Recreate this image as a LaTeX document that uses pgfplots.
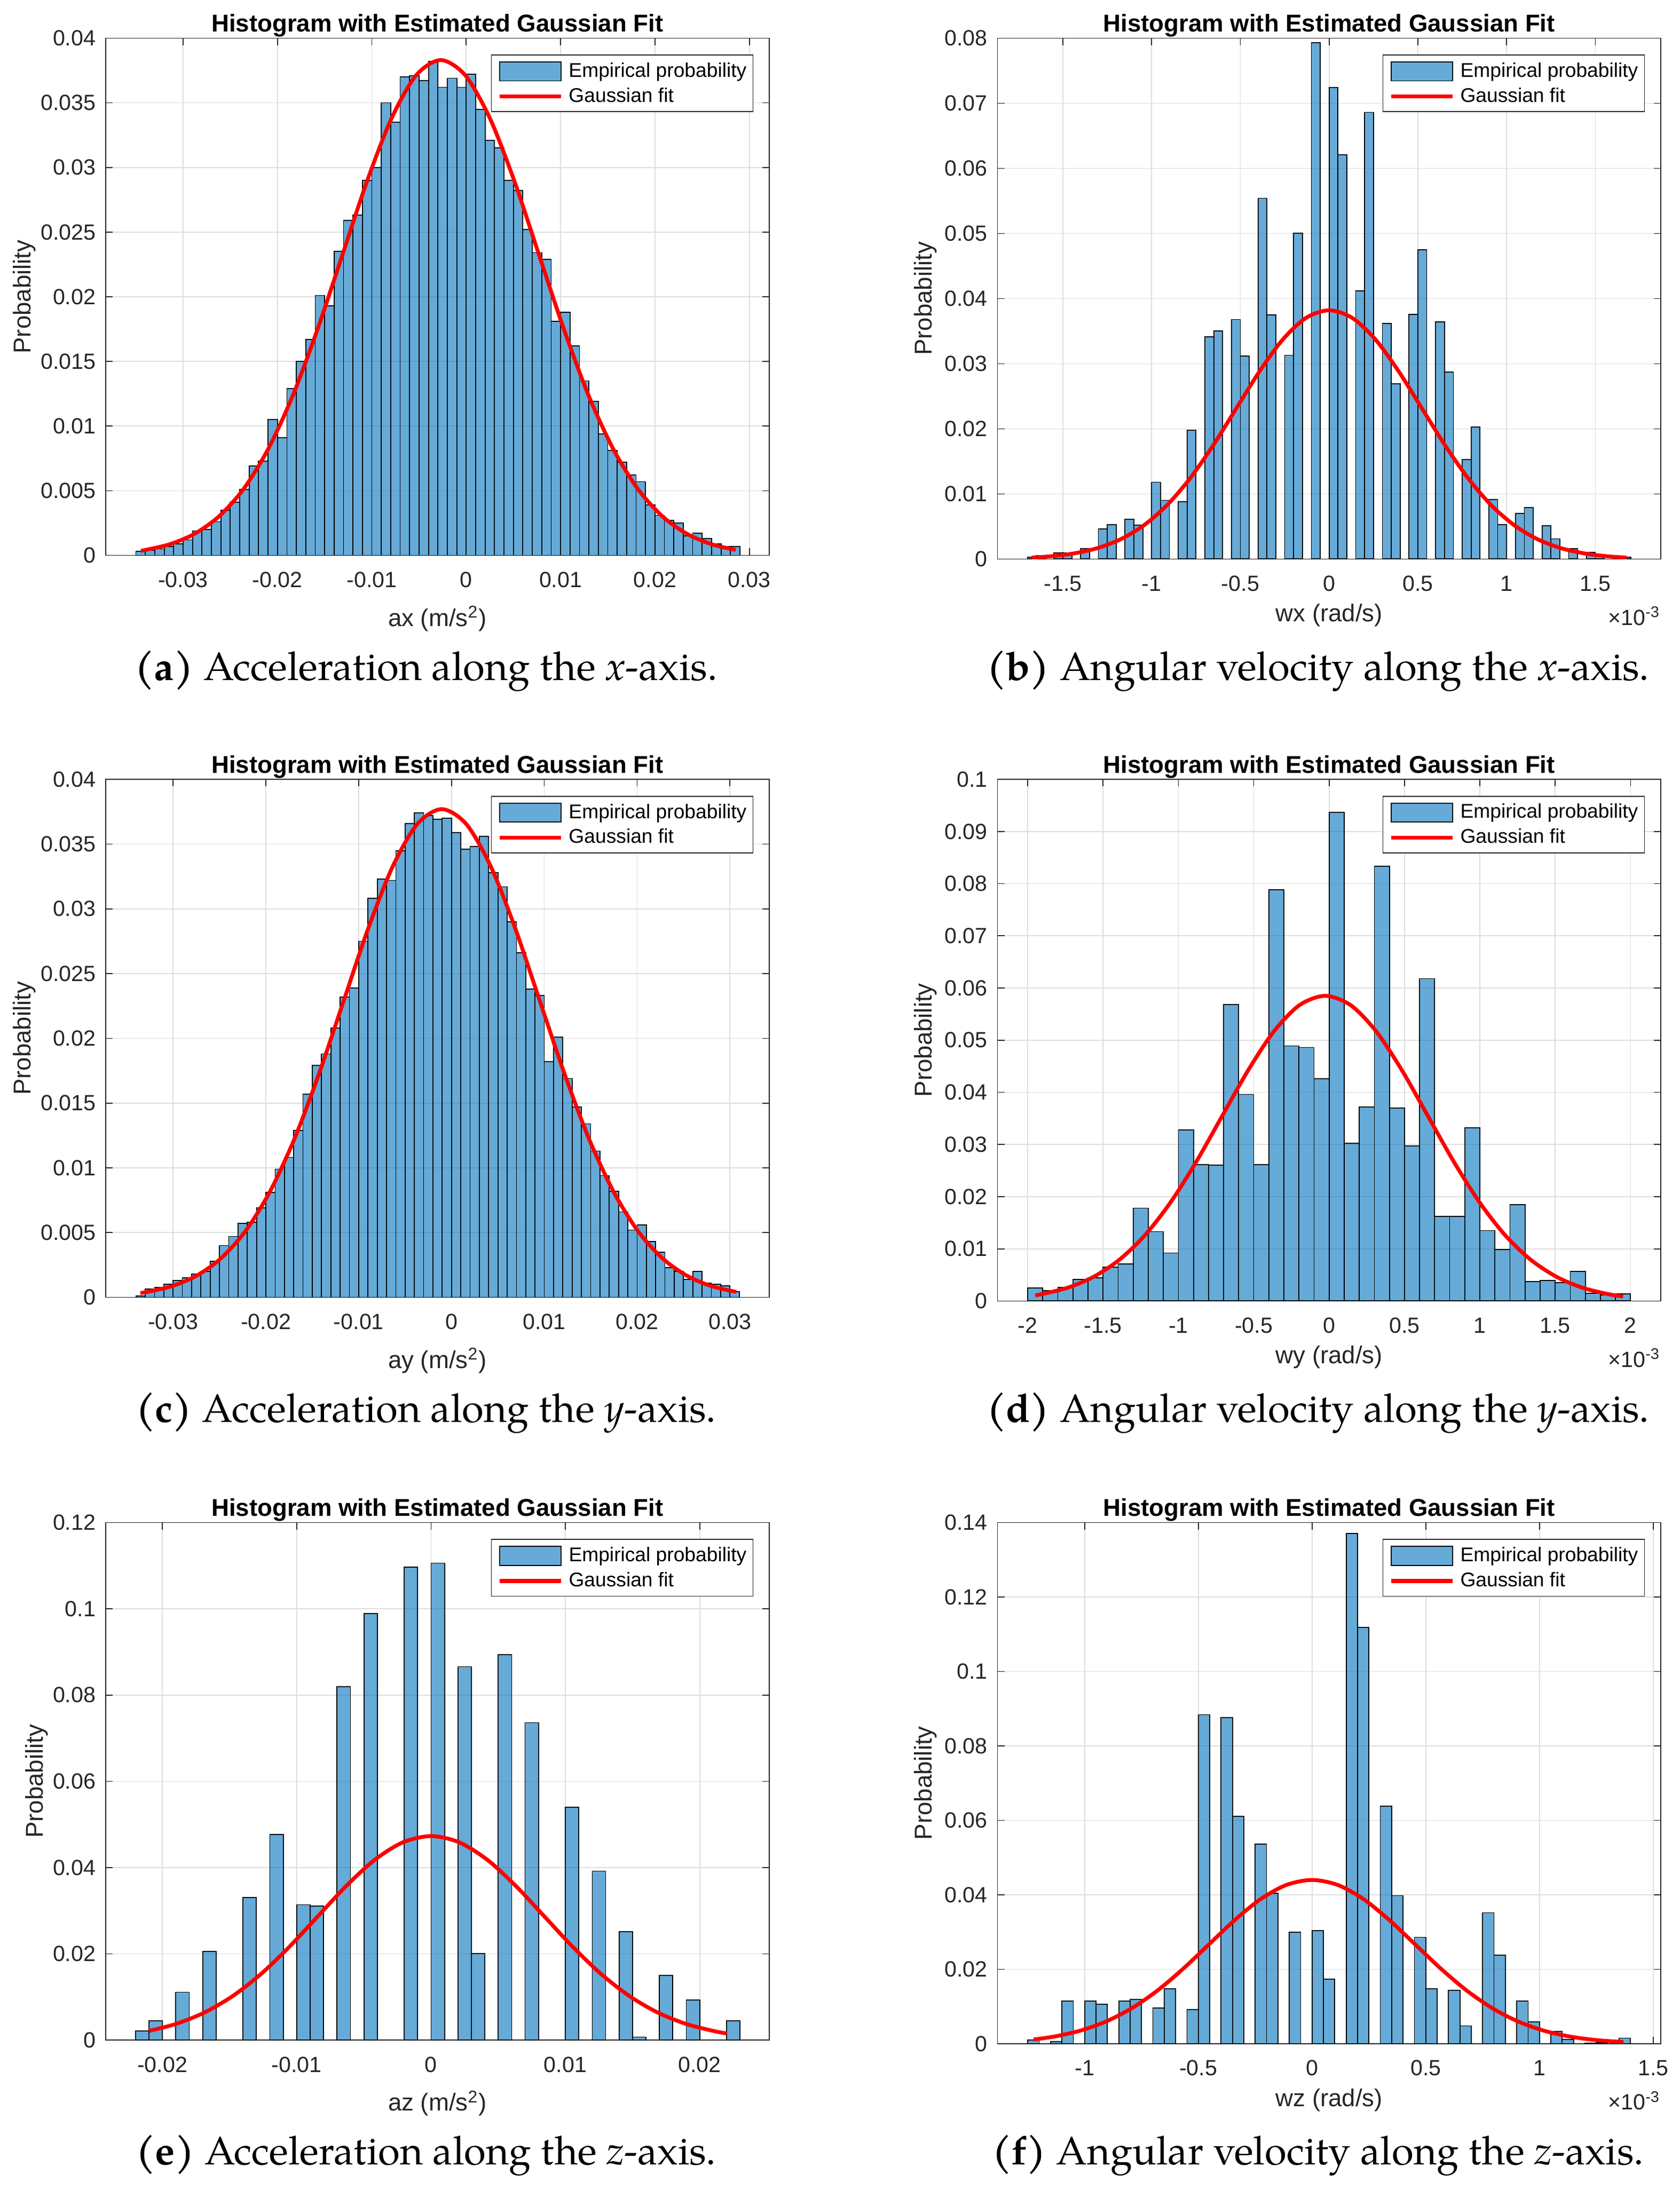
\documentclass[border=0pt]{standalone}
\usepackage{pgfplots}
\pgfplotsset{compat=1.18}
\usepackage{pgfplotstable}
\usepackage{fontspec}
\setmainfont{Liberation Sans}
\newfontfamily\capfont{texgyrepagella}[Extension=.otf, UprightFont=*-regular, BoldFont=*-bold, ItalicFont=*-italic, BoldItalicFont=*-bolditalic]

\definecolor{mblue}{rgb}{0,0.447,0.741}
\definecolor{axgray}{rgb}{0.15,0.15,0.15}
\definecolor{gridgray}{rgb}{0.87,0.87,0.87}
\newcommand\tickfont{\fontsize{10.3}{12}\selectfont}
\newcommand\titlefont{\fontsize{11.4}{13}\selectfont\bfseries}
\newcommand\labelfont{\fontsize{11.4}{13}\selectfont}
\newcommand\legfont{\fontsize{9.3}{11}\selectfont}
\newcommand\capsize{\capfont\fontsize{18.6}{22}\selectfont}

\pgfplotstableread{
x y
-0.0345 0.0003
-0.0335 0.0004
-0.0325 0.0005
-0.0315 0.0007
-0.0305 0.0009
-0.0295 0.0012
-0.0285 0.0019
-0.0275 0.0020
-0.0265 0.0026
-0.0255 0.0035
-0.0245 0.0041
-0.0235 0.0051
-0.0225 0.0069
-0.0215 0.0073
-0.0205 0.0105
-0.0195 0.0091
-0.0185 0.0129
-0.0175 0.0150
-0.0165 0.0167
-0.0155 0.0201
-0.0145 0.0193
-0.0135 0.0235
-0.0125 0.0259
-0.0115 0.0263
-0.0105 0.0290
-0.0095 0.0300
-0.0085 0.0350
-0.0075 0.0335
-0.0065 0.0370
-0.0055 0.0371
-0.0045 0.0367
-0.0035 0.0382
-0.0025 0.0362
-0.0015 0.0369
-0.0005 0.0362
0.0005 0.0372
0.0015 0.0345
0.0025 0.0321
0.0035 0.0315
0.0045 0.0290
0.0055 0.0282
0.0065 0.0252
0.0075 0.0234
0.0085 0.0229
0.0095 0.0181
0.0105 0.0188
0.0115 0.0162
0.0125 0.0135
0.0135 0.0119
0.0145 0.0094
0.0155 0.0081
0.0165 0.0072
0.0175 0.0062
0.0185 0.0057
0.0195 0.0039
0.0205 0.0031
0.0215 0.0027
0.0225 0.0025
0.0235 0.0015
0.0245 0.0017
0.0255 0.0013
0.0265 0.0009
0.0275 0.0007
0.0285 0.0007
}\histA

\pgfplotstableread{
x y
-1.675 0.00027
-1.625 0.0005
-1.525 0.0009
-1.475 0.0009
-1.375 0.0016
-1.275 0.0046
-1.225 0.0053
-1.125 0.0061
-1.075 0.0052
-0.975 0.0118
-0.925 0.0090
-0.825 0.0088
-0.775 0.0198
-0.675 0.0341
-0.625 0.0350
-0.525 0.0368
-0.475 0.0312
-0.375 0.0554
-0.325 0.0375
-0.225 0.0313
-0.175 0.0500
-0.075 0.0793
0.025 0.0724
0.075 0.0621
0.175 0.0412
0.225 0.0686
0.325 0.0362
0.375 0.0269
0.475 0.0376
0.525 0.0475
0.625 0.0364
0.675 0.0287
0.775 0.0153
0.825 0.0203
0.925 0.0091
0.975 0.0053
1.075 0.0070
1.125 0.0079
1.225 0.0051
1.275 0.0031
1.375 0.0016
1.475 0.0010
1.525 0.0004
1.675 0.00027
}\histB

\pgfplotstableread{
x y
-0.0335 0.0001
-0.0325 0.00065
-0.0315 0.00075
-0.0305 0.0010
-0.0295 0.0013
-0.0285 0.0015
-0.0275 0.0018
-0.0265 0.0020
-0.0255 0.0028
-0.0245 0.0040
-0.0235 0.0047
-0.0225 0.0057
-0.0215 0.0058
-0.0205 0.0069
-0.0195 0.0081
-0.0185 0.0099
-0.0175 0.0108
-0.0165 0.0129
-0.0155 0.0157
-0.0145 0.0179
-0.0135 0.0188
-0.0125 0.0208
-0.0115 0.0232
-0.0105 0.0239
-0.0095 0.0275
-0.0085 0.0308
-0.0075 0.0323
-0.0065 0.0322
-0.0055 0.0345
-0.0045 0.0366
-0.0035 0.0374
-0.0025 0.0372
-0.0015 0.0369
-0.0005 0.0370
0.0005 0.0359
0.0015 0.0346
0.0025 0.0348
0.0035 0.0356
0.0045 0.0328
0.0055 0.0317
0.0065 0.0290
0.0075 0.0266
0.0085 0.0238
0.0095 0.0233
0.0105 0.0182
0.0115 0.0201
0.0125 0.0169
0.0135 0.0147
0.0145 0.0134
0.0155 0.0113
0.0165 0.0094
0.0175 0.0082
0.0185 0.0066
0.0195 0.0052
0.0205 0.0056
0.0215 0.0043
0.0225 0.0035
0.0235 0.0023
0.0245 0.0020
0.0255 0.0014
0.0265 0.0020
0.0275 0.0011
0.0285 0.0010
0.0295 0.0009
0.0305 0.00045
}\histC

\pgfplotstableread{
x y
-1.95 0.0025
-1.85 0.0020
-1.75 0.0026
-1.65 0.0041
-1.55 0.0044
-1.45 0.0065
-1.35 0.0071
-1.25 0.0178
-1.15 0.0133
-1.05 0.0092
-0.95 0.0328
-0.85 0.0261
-0.75 0.0260
-0.65 0.0568
-0.55 0.0396
-0.45 0.0261
-0.35 0.0788
-0.25 0.0489
-0.15 0.0486
-0.05 0.0426
0.05 0.0937
0.15 0.0302
0.25 0.0372
0.35 0.0833
0.45 0.0370
0.55 0.0297
0.65 0.0618
0.75 0.0162
0.85 0.0162
0.95 0.0332
1.05 0.0135
1.15 0.0099
1.25 0.0185
1.35 0.0037
1.45 0.0039
1.55 0.0035
1.65 0.0057
1.75 0.0015
1.85 0.0012
1.95 0.0014
}\histD

\pgfplotstableread{
x y
-0.0215 0.0021
-0.0205 0.0045
-0.0185 0.0111
-0.0165 0.0206
-0.0135 0.0331
-0.0115 0.0477
-0.0095 0.0314
-0.0085 0.0311
-0.0065 0.0820
-0.0045 0.0989
-0.0015 0.1097
0.0005 0.1106
0.0025 0.0866
0.0035 0.0201
0.0055 0.0894
0.0075 0.0736
0.0105 0.0540
0.0125 0.0392
0.0145 0.0251
0.0155 0.0007
0.0175 0.0150
0.0195 0.0093
0.0225 0.0045
}\histE

\pgfplotstableread{
x y
-1.225 0.0010
-1.125 0.0006
-1.075 0.0115
-0.975 0.0115
-0.925 0.0106
-0.825 0.0115
-0.775 0.0119
-0.675 0.0096
-0.625 0.0148
-0.525 0.0092
-0.475 0.0884
-0.375 0.0876
-0.325 0.0611
-0.225 0.0536
-0.175 0.0404
-0.075 0.0300
0.025 0.0304
0.075 0.0173
0.175 0.1371
0.225 0.1118
0.325 0.0638
0.375 0.0398
0.475 0.0286
0.525 0.0148
0.625 0.0143
0.675 0.0048
0.775 0.0352
0.825 0.0238
0.925 0.0115
0.975 0.0059
1.075 0.0033
1.125 0.0012
1.225 0.0002
1.275 0.0003
1.375 0.0015
}\histF

\pgfplotsset{
  histax/.style={
    scale only axis, anchor=south west, width=310.7pt,
    axis line style={draw=axgray, line width=0.42pt},
    every tick/.append style={draw=axgray, line width=0.42pt},
    major tick length=3.3pt,
    tick align=inside,
    xmajorgrids, ymajorgrids,
    major grid style={draw=gridgray, line width=0.42pt},
    ymin=0,
    scaled ticks=false,
    tick label style={font=\tickfont, text=axgray},
    xticklabel style={anchor=base, yshift=-15pt, inner sep=0pt},
    yticklabel style={anchor=east, xshift=-4.5pt, inner sep=0pt},
    every axis title/.style={at={(0.5,1)}, anchor=base, yshift=2.9pt, font=\titlefont},
    title={Histogram with Estimated Gaussian Fit},
    ylabel={Probability},
    every axis y label/.style={rotate=90, anchor=base, font=\labelfont, text=axgray, inner sep=0pt},
    every axis x label/.style={at={(axis description cs:0.5,0)}, anchor=base, font=\labelfont, text=axgray, inner sep=0pt},
    legend cell align=left,
    legend style={at={(1,1)}, anchor=north east, xshift=-7.4pt, yshift=-7.7pt,
      draw=axgray, line width=0.42pt, fill=white, font=\legfont,
      inner xsep=3pt, inner ysep=3pt, row sep=2.95pt, column sep=2.75pt,
      nodes={inner sep=0pt}},
  },
  barplot/.style={ybar, bar width=#1, bar shift=0pt, fill=mblue, fill opacity=0.6,
    draw=black, line width=0.45pt,
    legend image code/.code={\draw[fill=mblue, fill opacity=0.6, draw=black, line width=0.45pt] (0pt,-4.45pt) rectangle (28.7pt,4.45pt);}},
  fitplot/.style={red, line width=1.8pt, smooth, line join=round,
    legend image code/.code={\draw[red, line width=1.8pt] (0pt,0pt) -- (28.7pt,0pt);}},
}

\begin{document}
\begin{tikzpicture}
\useasboundingbox (0,0) rectangle (786.75pt,1025.75pt);

% (a)
\begin{axis}[histax, name=axa, at={(49.5pt,765.6pt)}, height=242.3pt,
  xmin=-0.0382, xmax=0.0321, ymax=0.04,
  xtick={-0.03,-0.02,-0.01,0,0.01,0.02,0.03},
  xticklabels={-0.03,-0.02,-0.01,0,0.01,0.02,0.03},
  ytick={0,0.005,0.01,0.015,0.02,0.025,0.03,0.035,0.04},
  yticklabels={0,0.005,0.01,0.015,0.02,0.025,0.03,0.035,0.04},
  xlabel={ax (m/s\textsuperscript{2})}, xlabel style={yshift=-33.2pt},
  ylabel style={at={(axis description cs:-0.1131,0.5)}}]
\addplot[barplot=0.001] table[x=x,y=y] {\histA};
\addlegendentry{Empirical probability}
\addplot[fitplot] coordinates {
(-0.03448,0.000366) (-0.03396,0.000425) (-0.03136,0.000874) (-0.02875,0.001683)
(-0.02615,0.003047) (-0.02354,0.005184) (-0.02094,0.008283) (-0.01833,0.012434)
(-0.01573,0.017535) (-0.01312,0.023230) (-0.01052,0.028910) (-0.00791,0.033800)
(-0.00531,0.037122) (-0.0027,0.0383) (-0.00010,0.037122) (0.00251,0.033800)
(0.00512,0.028910) (0.00772,0.023230) (0.01033,0.017535) (0.01293,0.012434)
(0.01554,0.008283) (0.01814,0.005184) (0.02075,0.003047) (0.02335,0.001683)
(0.02596,0.000874) (0.02856,0.000425)};
\addlegendentry{Gaussian fit}
\end{axis}

% (b)
\begin{axis}[histax, name=axb, at={(467.15pt,763.9pt)}, width=310.55pt, height=244.0pt,
  xmin=-1.868, xmax=1.868, ymax=0.08,
  xtick={-1.5,-1,-0.5,0,0.5,1,1.5},
  xticklabels={-1.5,-1,-0.5,0,0.5,1,1.5},
  ytick={0,0.01,0.02,0.03,0.04,0.05,0.06,0.07,0.08},
  yticklabels={0,0.01,0.02,0.03,0.04,0.05,0.06,0.07,0.08},
  xlabel={wx (rad/s)}, xlabel style={yshift=-29.4pt},
  ylabel style={at={(axis description cs:-0.099,0.5)}}]
\addplot[barplot=0.05] table[x=x,y=y] {\histB};
\addlegendentry{Empirical probability}
\addplot[fitplot] coordinates {
(-1.6756,0.000221) (-1.566,0.000424) (-1.4355,0.000872) (-1.305,0.001679)
(-1.1745,0.003039) (-1.044,0.005170) (-0.9135,0.008262) (-0.783,0.012402)
(-0.6525,0.017489) (-0.522,0.023169) (-0.3915,0.028835) (-0.261,0.033712)
(-0.1305,0.037025) (0,0.0382) (0.1305,0.037025) (0.261,0.033712)
(0.3915,0.028835) (0.522,0.023169) (0.6525,0.017489) (0.783,0.012402)
(0.9135,0.008262) (1.044,0.005170) (1.1745,0.003039) (1.305,0.001679)
(1.4355,0.000872) (1.566,0.000424) (1.6756,0.000221)};
\addlegendentry{Gaussian fit}
\end{axis}

% (c)
\begin{axis}[histax, name=axc, at={(49.5pt,418.1pt)}, height=242.6pt,
  xmin=-0.03726, xmax=0.03423, ymax=0.04,
  xtick={-0.03,-0.02,-0.01,0,0.01,0.02,0.03},
  xticklabels={-0.03,-0.02,-0.01,0,0.01,0.02,0.03},
  ytick={0,0.005,0.01,0.015,0.02,0.025,0.03,0.035,0.04},
  yticklabels={0,0.005,0.01,0.015,0.02,0.025,0.03,0.035,0.04},
  xlabel={ay (m/s\textsuperscript{2})}, xlabel style={yshift=-33.2pt},
  ylabel style={at={(axis description cs:-0.1131,0.5)}}]
\addplot[barplot=0.001] table[x=x,y=y] {\histC};
\addlegendentry{Empirical probability}
\addplot[fitplot] coordinates {
(-0.03353,0.000339) (-0.03279,0.000419) (-0.03015,0.000860) (-0.02750,0.001657)
(-0.02486,0.002999) (-0.02221,0.005102) (-0.01957,0.008153) (-0.01692,0.012239)
(-0.01428,0.017260) (-0.01163,0.022866) (-0.00899,0.028457) (-0.00634,0.033270)
(-0.00370,0.036540) (-0.00105,0.0377) (0.00160,0.036540) (0.00424,0.033270)
(0.00689,0.028457) (0.00953,0.022866) (0.01218,0.017260) (0.01482,0.012239)
(0.01747,0.008153) (0.02011,0.005102) (0.02276,0.002999) (0.02540,0.001657)
(0.02805,0.000860) (0.03069,0.000419)};
\addlegendentry{Gaussian fit}
\end{axis}

% (d)
\begin{axis}[histax, name=axd, at={(467.15pt,416.4pt)}, width=310.55pt, height=244.3pt,
  xmin=-2.2, xmax=2.2, ymax=0.1,
  xtick={-2,-1.5,-1,-0.5,0,0.5,1,1.5,2},
  xticklabels={-2,-1.5,-1,-0.5,0,0.5,1,1.5,2},
  ytick={0,0.01,0.02,0.03,0.04,0.05,0.06,0.07,0.08,0.09,0.1},
  yticklabels={0,0.01,0.02,0.03,0.04,0.05,0.06,0.07,0.08,0.09,0.1},
  xlabel={wy (rad/s)}, xlabel style={yshift=-29.4pt},
  ylabel style={at={(axis description cs:-0.099,0.5)}}]
\addplot[barplot=0.1] table[x=x,y=y] {\histD};
\addlegendentry{Empirical probability}
\addplot[fitplot] coordinates {
(-1.9502,0.001098) (-1.9025,0.001335) (-1.732,0.002570) (-1.5615,0.004654)
(-1.391,0.007917) (-1.2205,0.012652) (-1.05,0.018992) (-0.8795,0.026783)
(-0.709,0.035482) (-0.5385,0.044158) (-0.368,0.051626) (-0.1975,0.056700)
(-0.027,0.0585) (0.1435,0.056700) (0.314,0.051626) (0.4845,0.044158)
(0.655,0.035482) (0.8255,0.026783) (0.996,0.018992) (1.1665,0.012652)
(1.337,0.007917) (1.5075,0.004654) (1.678,0.002570) (1.8485,0.001335)
(1.9508,0.000873)};
\addlegendentry{Gaussian fit}
\end{axis}

% (e)
\begin{axis}[histax, name=axe, at={(49.5pt,70.2pt)}, height=242.4pt,
  xmin=-0.02422, xmax=0.02517, ymax=0.12,
  xtick={-0.02,-0.01,0,0.01,0.02},
  xticklabels={-0.02,-0.01,0,0.01,0.02},
  ytick={0,0.02,0.04,0.06,0.08,0.1,0.12},
  yticklabels={0,0.02,0.04,0.06,0.08,0.1,0.12},
  xlabel={az (m/s\textsuperscript{2})}, xlabel style={yshift=-33.2pt},
  ylabel style={at={(axis description cs:-0.0946,0.5)}}]
\addplot[barplot=0.001] table[x=x,y=y] {\histE};
\addlegendentry{Empirical probability}
\addplot[fitplot] coordinates {
(-0.0210,0.002131) (-0.018977,0.003763) (-0.016868,0.006402) (-0.014760,0.010230)
(-0.012651,0.015356) (-0.010543,0.021655) (-0.008434,0.028689) (-0.006326,0.035704)
(-0.004217,0.041742) (-0.002109,0.045845) (0,0.0473) (0.002109,0.045845)
(0.004217,0.041742) (0.006326,0.035704) (0.008434,0.028689) (0.010543,0.021655)
(0.012651,0.015356) (0.014760,0.010230) (0.016868,0.006402) (0.018977,0.003763)
(0.021085,0.002078) (0.022013,0.001569)};
\addlegendentry{Gaussian fit}
\end{axis}

% (f)
\begin{axis}[histax, name=axf, at={(467.15pt,68.5pt)}, width=310.55pt, height=244.1pt,
  xmin=-1.383, xmax=1.533, ymax=0.14,
  xtick={-1,-0.5,0,0.5,1,1.5},
  xticklabels={-1,-0.5,0,0.5,1,1.5},
  ytick={0,0.02,0.04,0.06,0.08,0.1,0.12,0.14},
  yticklabels={0,0.02,0.04,0.06,0.08,0.1,0.12,0.14},
  xlabel={wz (rad/s)}, xlabel style={yshift=-29.4pt},
  ylabel style={at={(axis description cs:-0.099,0.5)}}]
\addplot[barplot=0.05] table[x=x,y=y] {\histF};
\addlegendentry{Empirical probability}
\addplot[fitplot] coordinates {
(-1.2242,0.001149) (-1.1335,0.001933) (-1.0202,0.003501) (-0.9068,0.005955)
(-0.7935,0.009516) (-0.6801,0.014285) (-0.5668,0.020145) (-0.4534,0.026687)
(-0.3401,0.033213) (-0.2267,0.038830) (-0.1134,0.042646) (0,0.044)
(0.1134,0.042646) (0.2267,0.038830) (0.3401,0.033213) (0.4534,0.026687)
(0.5668,0.020145) (0.6801,0.014285) (0.7935,0.009516) (0.9068,0.005955)
(1.0202,0.003501) (1.1335,0.001933) (1.2469,0.001004) (1.3693,0.000460)};
\addlegendentry{Gaussian fit}
\end{axis}

\foreach \ax in {axb,axd,axf}{
  \node[anchor=base east, inner sep=0pt, font=\tickfont, text=axgray] at ([yshift=-31pt]\ax.south east) {×10\textsuperscript{-3}};
}

\node[anchor=base, inner sep=0pt, font=\capsize] at (199.5pt,707.1pt) {\textbf{(a)} Acceleration along the \textit{x}-axis.};
\node[anchor=base, inner sep=0pt, font=\capsize] at (617.2pt,707.1pt) {\textbf{(b)} Angular velocity along the \textit{x}-axis.};
\node[anchor=base, inner sep=0pt, font=\capsize] at (199.5pt,359.6pt) {\textbf{(c)} Acceleration along the \textit{y}-axis.};
\node[anchor=base, inner sep=0pt, font=\capsize] at (617.2pt,359.6pt) {\textbf{(d)} Angular velocity along the \textit{y}-axis.};
\node[anchor=base, inner sep=0pt, font=\capsize] at (199.5pt,12pt) {\textbf{(e)} Acceleration along the \textit{z}-axis.};
\node[anchor=base, inner sep=0pt, font=\capsize] at (617.2pt,12pt) {\textbf{(f)} Angular velocity along the \textit{z}-axis.};
\end{tikzpicture}
\end{document}
